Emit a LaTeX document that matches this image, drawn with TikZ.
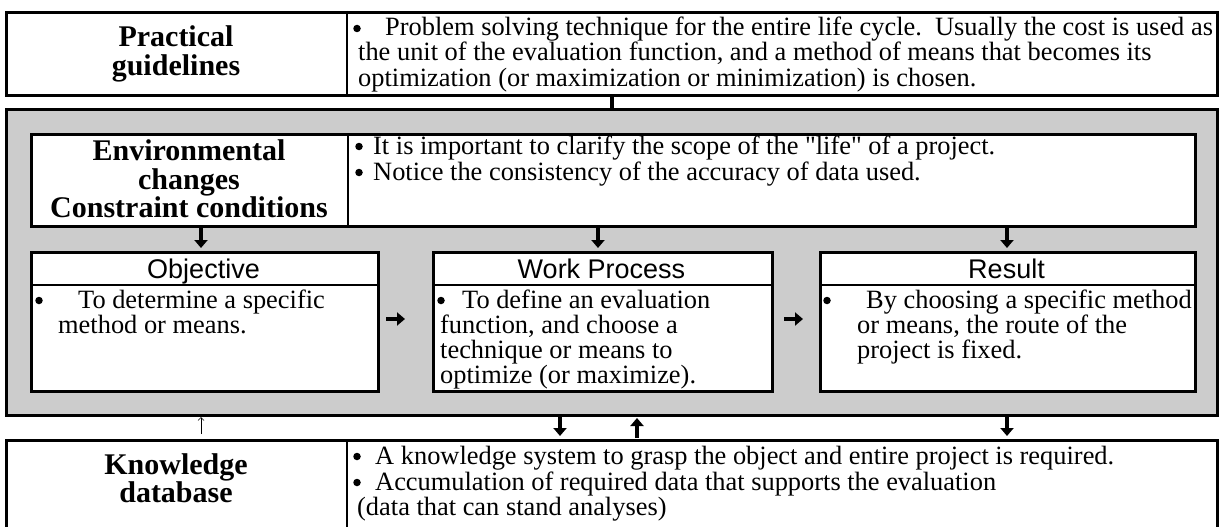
\documentclass[tikz,border=0pt]{standalone}
\usepackage{fontspec}
\setmainfont{Liberation Serif}[Ligatures=TeXOff]
\setsansfont{Liberation Sans}[Ligatures=TeXOff]
\usetikzlibrary{arrows.meta}
\definecolor{panel}{RGB}{204,204,204}
\begin{document}
\begin{tikzpicture}[x=1pt,y=-1pt,
  box/.style={draw, line width=2.8pt, inner sep=0pt, anchor=north west},
  rule/.style={line width=2.6pt},
  body/.style={font=\fontsize{26.4}{26}\selectfont, anchor=base west, inner sep=0pt},
  dot/.style={circle, fill=black, inner sep=0pt, minimum size=7.5pt},
  ttl/.style={font=\bfseries\fontsize{30}{28.5}\selectfont, align=center, inner sep=0pt},
  hdr/.style={font=\sffamily\fontsize{27}{27}\selectfont, anchor=base, inner sep=0pt},
  fat/.style={line width=3.6pt, -{Triangle[width=13pt,length=8pt]}},
  slim/.style={line width=0.7pt, -{Straight Barb[length=3pt,width=6pt]}}]
\useasboundingbox (0,0) rectangle (1221,527);
% top box
\node[box, minimum width=1211pt, minimum height=83pt] (top) at (5,11) {};
\draw[rule] (347,11) -- (347,94);
\node[ttl] (pg) at (176,54) {Practical\\guidelines};
\node[dot] (tb) at (357,28.5) {};
\node[body] (t1) at (385,36) {Problem solving technique for the entire life cycle.\ \ Usually the cost is used as};
\node[body] (t2) at (358,61) {the unit of the evaluation function, and a method of means that becomes its};
\node[body] (t3) at (358,86) {optimization (or maximization or minimization) is chosen.};
% gray panel
\node[box, fill=panel, minimum width=1211pt, minimum height=306pt] (gray) at (5,108) {};
\draw[line width=4pt] (top.south) -- (gray.north);
% env box
\node[box, fill=white, minimum width=1164pt, minimum height=92pt] (env) at (30,133) {};
\draw[rule] (348,133) -- (348,225);
\node[ttl] (envt) at (189,179) {Environmental\\changes\\Constraint conditions};
\node[dot] (eb1) at (359,146.5) {};
\node[body] (e1) at (373,154) {It is important to clarify the scope of the "life" of a project.};
\node[dot] (eb2) at (359,172.5) {};
\node[body] (e2) at (373,180) {Notice the consistency of the accuracy of data used.};
% objective
\node[box, fill=white, minimum width=347pt, minimum height=139pt] (obj) at (30,251) {};
\draw[rule] (30,285) -- (377,285);
\node[hdr] (objh) at (203.5,278) {Objective};
\node[dot] (ob) at (39,300.5) {};
\node[body] (o1) at (78,308) {To determine a specific};
\node[body] (o2) at (58,333) {method or means.};
% work process
\node[box, fill=white, minimum width=339pt, minimum height=139pt] (wp) at (432,251) {};
\draw[rule] (432,285) -- (771,285);
\node[hdr] (wph) at (601.5,278) {Work Process};
\node[dot] (wb) at (441,300.5) {};
\node[body] (w1) at (462,308) {To define an evaluation};
\node[body] (w2) at (440,333) {function, and choose a};
\node[body] (w3) at (440,358) {technique or means to};
\node[body] (w4) at (440,383) {optimize (or maximize).};
% result
\node[box, fill=white, minimum width=375pt, minimum height=139pt] (res) at (819,251) {};
\draw[rule] (819,285) -- (1194,285);
\node[hdr] (resh) at (1006.5,278) {Result};
\node[dot] (rb) at (827,300.5) {};
\node[body] (r1) at (866,308) {By choosing a specific method};
\node[body] (r2) at (857,333) {or means, the route of the};
\node[body] (r3) at (857,358) {project is fixed.};
% knowledge
\node[box, minimum width=1211pt, minimum height=100pt] (kn) at (5,439) {};
\draw[rule] (347,439) -- (347,539);
\node[ttl] (knt) at (176,478) {Knowledge\\database};
\node[dot] (kb1) at (357,456.5) {};
\node[body] (k1) at (375,464) {A knowledge system to grasp the object and entire project is required.};
\node[dot] (kb2) at (357,482.5) {};
\node[body] (k2) at (375,490) {Accumulation of required data that supports the evaluation};
\node[body] (k3) at (357,515) {(data that can stand analyses)};
% arrows
\coordinate (a1s) at (201,226); \coordinate (a1e) at (201,248);
\coordinate (a2s) at (598,226); \coordinate (a2e) at (598,248);
\coordinate (a3s) at (1007,226); \coordinate (a3e) at (1007,248);
\draw[fat] (a1s) -- (a1e);
\draw[fat] (a2s) -- (a2e);
\draw[fat] (a3s) -- (a3e);
\coordinate (h1s) at (386,319); \coordinate (h1e) at (405,319);
\coordinate (h2s) at (784,319); \coordinate (h2e) at (803,319);
\draw[fat] (h1s) -- (h1e);
\draw[fat] (h2s) -- (h2e);
\coordinate (b1s) at (201,434); \coordinate (b1e) at (201,417);
\draw[slim] (b1s) -- (b1e);
\coordinate (b2s) at (560,415); \coordinate (b2e) at (560,436);
\draw[fat] (b2s) -- (b2e);
\coordinate (b3s) at (637,438); \coordinate (b3e) at (637,418);
\draw[fat] (b3s) -- (b3e);
\coordinate (b4s) at (1007,415); \coordinate (b4e) at (1007,436);
\draw[fat] (b4s) -- (b4e);
\end{tikzpicture}
\end{document}
